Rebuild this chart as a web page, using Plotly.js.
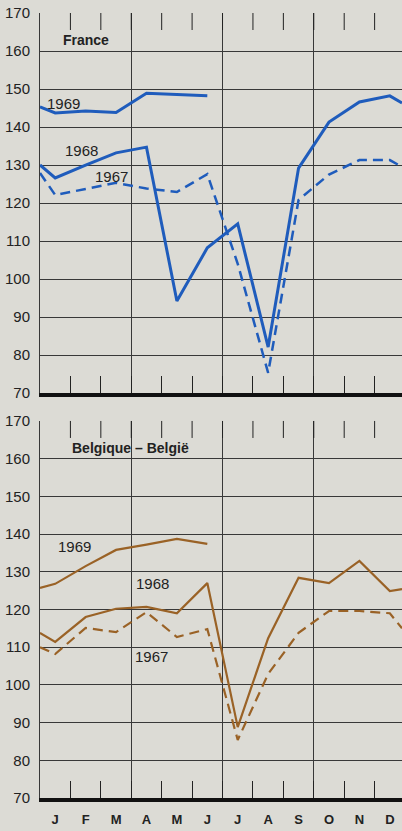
<!DOCTYPE html>
<html>
<head>
<meta charset="utf-8">
<script src="https://cdn.plot.ly/plotly-3.0.1.min.js"></script>
<style>
  html, body { margin: 0; padding: 0; background: #dcdbd5; }
  #chart { width: 402px; height: 831px; }
</style>
</head>
<body>
<div id="chart"></div>
<script>
// Month labels (x axis, bottom panel)
const months = ['J','F','M','A','M','J','J','A','S','O','N','D'];

// Each series: [value at left edge, Jan .. Dec, value at right edge]
const france1969 = [145.3, 143.7, 144.2, 143.8, 148.9, 148.6, 148.2, null, null, null, null, null, null, null];
const france1968 = [130.0, 126.6, 130.0, 133.2, 134.7, 94.2, 108.2, 114.5, 82.1, 129.2, 141.3, 146.6, 148.2, 146.3];
const france1967 = [127.9, 122.1, 123.7, 125.3, 123.8, 122.9, 127.6, 104.0, 75.3, 120.8, 127.5, 131.3, 131.3, 129.5];

const belgium1969 = [125.7, 126.8, 131.5, 135.8, 137.2, 138.7, 137.4, null, null, null, null, null, null, null];
const belgium1968 = [113.8, 111.4, 118.0, 120.2, 120.7, 119.0, 127.0, 88.8, 112.4, 128.4, 127.0, 132.9, 124.9, 125.4];
const belgium1967 = [110.0, 108.2, 115.1, 114.0, 119.3, 112.7, 114.8, 85.4, 102.9, 113.8, 119.6, 119.6, 119.0, 115.0];

const seriesNames = ['1969', '1968', '1967'];
const panelTitles = ['France', 'Belgique – België'];

// ---- geometry / styling (not data) ----
const X_MAX = 11.9;
const TOP_DOMAIN = [0.5159, 1];
const BOT_DOMAIN = [0, 0.4803];
const xPos = [0].concat(months.map((m, i) => i + 0.5)).concat([X_MAX]);
const BG = '#dcdbd5';
const GRID = '#383838';
const BLUE = '#1f5cbc';
const BROWN = '#9a6226';
const numFont = { family: 'Liberation Sans Narrow, Arial Narrow, sans-serif', size: 15, color: '#222' };

function line(y, color, width, dash, xa, ya, name) {
  return { x: xPos, y: y, type: 'scatter', mode: 'lines', name: name,
    line: { color: color, width: width, dash: dash },
    xaxis: xa, yaxis: ya, connectgaps: false, hoverinfo: 'skip', showlegend: false };
}
// invisible helper trace so that an overlay axis gets drawn
function holder(xa, ya) {
  return { x: [null], y: [null], type: 'scatter', mode: 'lines', xaxis: xa, yaxis: ya,
    hoverinfo: 'skip', showlegend: false };
}

const traces = [
  line(france1969, BLUE, 3, 'solid', 'x', 'y', seriesNames[0]),
  line(france1968, BLUE, 3, 'solid', 'x', 'y', seriesNames[1]),
  line(france1967, BLUE, 2.5, '10px,6px', 'x', 'y', seriesNames[2]),
  line(belgium1969, BROWN, 2.2, 'solid', 'x2', 'y2', seriesNames[0]),
  line(belgium1968, BROWN, 2.2, 'solid', 'x2', 'y2', seriesNames[1]),
  line(belgium1967, BROWN, 2.2, '10px,6px', 'x2', 'y2', seriesNames[2]),
  holder('x5', 'y2')
];

const boundaries = [1,2,3,4,5,6,7,8,9,10,11];
const quarters = [0,3,6,9,12];
const minorTicks = { tickmode: 'array', tickvals: boundaries, ticks: 'inside', ticklen: 17,
  tickwidth: 1, tickcolor: '#222', showgrid: false };

function bottomAxis(anchor) {
  return { anchor: anchor, domain: [0, 1], range: [0, X_MAX], fixedrange: true,
    tickmode: 'array', tickvals: quarters, showticklabels: false, ticks: '',
    showgrid: true, gridcolor: GRID, gridwidth: 1, zeroline: false,
    showline: true, linecolor: '#111', linewidth: 4, minor: minorTicks };
}
function yAxis(domain) {
  return { domain: domain, range: [70, 170], fixedrange: true, tickmode: 'linear', tick0: 70, dtick: 10,
    showgrid: true, gridcolor: GRID, gridwidth: 1, zeroline: false,
    showline: true, linecolor: GRID, linewidth: 1, ticks: '', ticklabelstandoff: 6,
    tickfont: numFont };
}

// month ticks hanging from the top edge of each panel
const shapes = [];
[['x', 'y domain'], ['x2', 'y2 domain']].forEach(([xr, yr]) => {
  boundaries.forEach(b => {
    shapes.push({ type: 'line', xref: xr, yref: yr, ysizemode: 'pixel', yanchor: 1,
      x0: b, x1: b, y0: 0, y1: -17, layer: 'above', line: { color: '#222', width: 1 } });
  });
});

const layout = {
  width: 402, height: 831,
  margin: { l: 40, r: 0, t: 13, b: 33 },
  paper_bgcolor: BG, plot_bgcolor: BG,
  showlegend: false,
  xaxis: bottomAxis('y'),
  yaxis: yAxis(TOP_DOMAIN),
  xaxis2: bottomAxis('y2'),
  yaxis2: yAxis(BOT_DOMAIN),
  xaxis5: { overlaying: 'x2', anchor: 'y2', side: 'bottom', range: [0, X_MAX], fixedrange: true,
    tickmode: 'array', tickvals: months.map((m, i) => i + 0.5), ticktext: months,
    ticks: '', showgrid: false, zeroline: false, showline: false, ticklabelstandoff: 12,
    tickfont: { family: 'Liberation Sans, Arial, sans-serif', size: 13, color: '#222', weight: 'bold' } },
  shapes: shapes,
  annotations: [
    { xref: 'x', yref: 'y', x: 1.51, y: 162.9, text: '<b>' + panelTitles[0] + '</b>', showarrow: false,
      font: { family: 'Liberation Sans, Arial, sans-serif', size: 14, color: '#222' } },
    { xref: 'x2', yref: 'y2', x: 2.99, y: 162.7, text: '<b>' + panelTitles[1] + '</b>', showarrow: false,
      font: { family: 'Liberation Sans, Arial, sans-serif', size: 14, color: '#222' } },
    { xref: 'x', yref: 'y', x: 0.76, y: 146.3, text: seriesNames[0], showarrow: false, font: numFont },
    { xref: 'x', yref: 'y', x: 1.38, y: 133.7, text: seriesNames[1], showarrow: false, font: numFont },
    { xref: 'x', yref: 'y', x: 2.34, y: 127.1, text: seriesNames[2], showarrow: false, font: numFont },
    { xref: 'x2', yref: 'y2', x: 1.13, y: 136.8, text: seriesNames[0], showarrow: false, font: numFont },
    { xref: 'x2', yref: 'y2', x: 3.70, y: 127.0, text: seriesNames[1], showarrow: false, font: numFont },
    { xref: 'x2', yref: 'y2', x: 3.68, y: 107.4, text: seriesNames[2], showarrow: false, font: numFont }
  ]
};

Plotly.newPlot('chart', traces, layout, { staticPlot: true, displayModeBar: false });
</script>
</body>
</html>
